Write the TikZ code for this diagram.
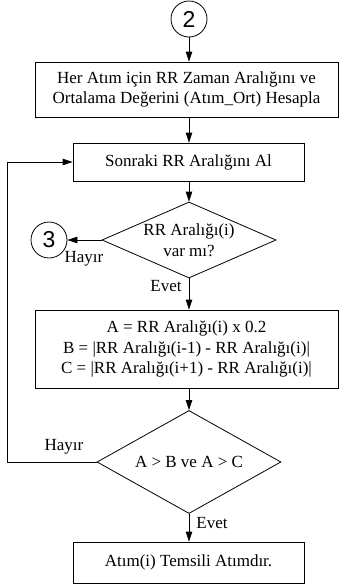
\documentclass[tikz,border=0pt]{standalone}
\usepackage{fontspec}
\setmainfont{Liberation Serif}
\newfontfamily\digitfont{Liberation Sans}
\usetikzlibrary{shapes.geometric,arrows.meta}

\tikzset{
  txt/.style={font=\fontsize{17}{20.5}\selectfont, align=center},
  procbox/.style={draw, rectangle, inner sep=0pt, txt},
  decision/.style={draw, diamond, inner sep=0pt},
  connector/.style={draw, circle, inner sep=0pt, minimum size=36pt,
    font=\digitfont\fontsize{23}{23}\selectfont},
  tag/.style={txt, inner sep=0pt},
  flow/.style={-{Triangle[length=10pt,width=6.5pt]}},
}

\begin{document}
\begin{tikzpicture}[x=1pt, y=-1pt, line width=0.8pt]
  \useasboundingbox (0,0) rectangle (339,584);

  % off-page connectors
  \node[connector] (c2) at (189,19) {2};
  \node[connector] (c3) at (49,240) {3};

  % process steps
  \node[procbox, minimum width=303pt, minimum height=55pt] (b1) at (186.5,89.5)
    {Her Atım için RR Zaman Aralığını ve\\Ortalama Değerini (Atım\_Ort) Hesapla};
  \node[procbox, minimum width=231pt, minimum height=38pt] (b2) at (188.5,162)
    {Sonraki RR Aralığını Al};
  \node[procbox, minimum width=303pt, minimum height=78pt] (b3) at (186.5,349)
    {A = RR Aralığı(i) x 0.2\\B = |RR Aralığı(i-1) - RR Aralığı(i)|\\C = |RR Aralığı(i+1) - RR Aralığı(i)|};
  \node[procbox, minimum width=231pt, minimum height=41pt] (b4) at (188.5,562.5)
    {Atım(i) Temsili Atımdır.};

  % decisions
  \node[decision, minimum width=174pt, minimum height=76pt] (d1) at (189,240) {};
  \node[tag] (d1t) at (d1.center) {RR Aralığı(i)\\var mı?};
  \node[decision, minimum width=184pt, minimum height=103pt] (d2) at (189,462) {};
  \node[tag] (d2t) at (d2.center) {A > B ve A > C};

  % branch labels
  \node[tag] (no1) at (84,259) {Hayır};
  \node[tag] (yes1) at (166,286) {Evet};
  \node[tag] (no2) at (64,447) {Hayır};
  \node[tag] (yes2) at (212,523) {Evet};

  % main flow
  \draw[flow] (c2.south) -- (c2.south |- b1.north);
  \draw[flow] (d1.north |- b1.south) -- (d1.north |- b2.north);
  \draw[flow] (d1.north |- b2.south) -- (d1.north);
  \draw[flow] (d1.west) -- (c3.east);
  \draw[flow] (d1.south) -- (d1.south |- b3.north);
  \draw[flow] (d2.north |- b3.south) -- (d2.north);
  \draw[flow] (d2.south) -- (d2.south |- b4.north);

  % loop back to the next interval
  \coordinate (loopx) at (7,462);
  \draw[flow] (d2.west) -- (loopx) |- (b2.west);
\end{tikzpicture}
\end{document}
